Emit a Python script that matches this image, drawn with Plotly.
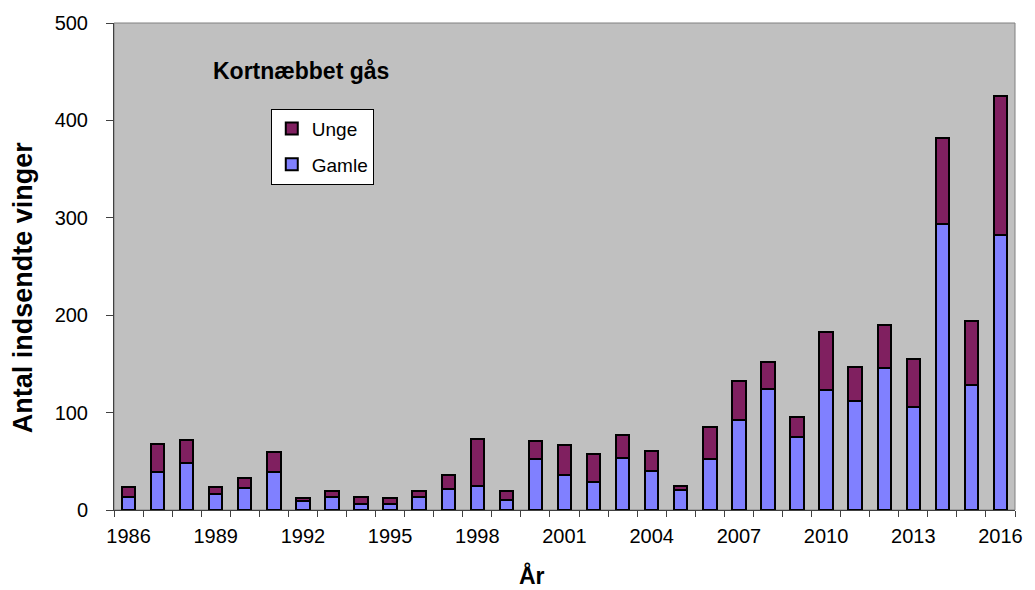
"""Kortnæbbet gås: indsendte vinger pr. år, stablet søjlediagram."""

import plotly.graph_objects as go

years = list(range(1986, 2017))
totals = [24, 68, 72, 24, 33, 60, 12, 20, 13, 12, 20, 36, 73, 20, 71, 67, 57, 77, 61, 25,
          85, 132, 152, 96, 183, 147, 190, 155, 382, 194, 425]
gamle = [13, 39, 48, 16, 23, 39, 9, 13, 6, 6, 13, 22, 25, 10, 52, 36, 29, 53, 40, 21,
         52, 92, 124, 75, 123, 112, 146, 106, 294, 128, 282]
unge = [t - g for t, g in zip(totals, gamle)]
tick_years = list(range(1986, 2017, 3))

FONT = "Liberation Sans, Arial, sans-serif"

fig = go.Figure()
fig.add_trace(
    go.Bar(
        x=years,
        y=gamle,
        name="Gamle",
        legendgroup="gamle",
        legendrank=2,
        marker={"color": "#8080FF", "line": {"color": "black", "width": 2}},
        width=0.46,
    )
)
fig.add_trace(
    go.Bar(
        x=years,
        y=unge,
        name="Unge",
        legendgroup="unge",
        legendrank=1,
        marker={"color": "#802060", "line": {"color": "black", "width": 2}},
        width=0.46,
    )
)

fig.add_annotation(
    text="<b>Kortnæbbet gås</b>",
    xref="paper", yref="paper",
    x=0.1078, y=0.901,
    xanchor="left", yanchor="middle",
    showarrow=False,
    font={"size": 23, "color": "black", "family": FONT},
)
fig.add_annotation(
    text="<b>År</b>",
    xref="paper", yref="paper",
    x=0.464, y=-0.134,
    xanchor="center", yanchor="middle",
    borderpad=0,
    showarrow=False,
    font={"size": 23, "color": "black", "family": FONT},
)
fig.add_annotation(
    text="<b>Antal indsendte vinger</b>",
    xref="paper", yref="paper",
    x=-0.1, y=0.457,
    xanchor="center", yanchor="middle",
    textangle=-90,
    showarrow=False,
    font={"size": 27, "color": "black", "family": FONT},
)

fig.update_layout(
    barmode="stack",
    width=1035,
    height=590,
    paper_bgcolor="white",
    plot_bgcolor="#C0C0C0",
    font={"family": FONT, "size": 20, "color": "black"},
    margin={"l": 114, "r": 12, "t": 22, "b": 80},
    showlegend=True,
    legend={
        "x": 0.174, "y": 0.824,
        "xanchor": "left", "yanchor": "top",
        "bgcolor": "white",
        "bordercolor": "black",
        "borderwidth": 1,
        "traceorder": "grouped",
        "tracegroupgap": 8,
        "font": {"size": 19, "family": FONT},
        "itemwidth": 30,
    },
    xaxis={
        "range": [1985.5, 2016.5],
        "tickvals": tick_years,
        "ticktext": [str(y) for y in tick_years],
        "ticks": "",
        "ticklabelstandoff": 8,
        "ticklabeloverflow": "allow",
        "showgrid": False,
        "zeroline": False,
        "showline": True,
        "linecolor": "#404040",
        "linewidth": 1,
        "minor": {"ticks": "outside", "tick0": 1985.5, "dtick": 1, "ticklen": 6,
                  "tickcolor": "#404040", "showgrid": False},
        "fixedrange": True,
    },
    yaxis={
        "range": [0, 500],
        "dtick": 100,
        "ticks": "outside",
        "ticklen": 7,
        "tickcolor": "#404040",
        "ticklabelstandoff": 14,
        "showgrid": False,
        "zeroline": False,
        "showline": True,
        "linecolor": "#404040",
        "linewidth": 1,
    },
)

# grey frame around plot area (top and right)
fig.add_shape(type="rect", xref="paper", yref="paper", x0=0, y0=0, x1=1, y1=1,
              line={"color": "#808080", "width": 1}, layer="below")

# drop the default body margin so the 1035x590 figure fills the window exactly
fig.write_html(
    "out.html",
    config={"displayModeBar": False},
    post_script="document.body.style.margin = '0';",
)
